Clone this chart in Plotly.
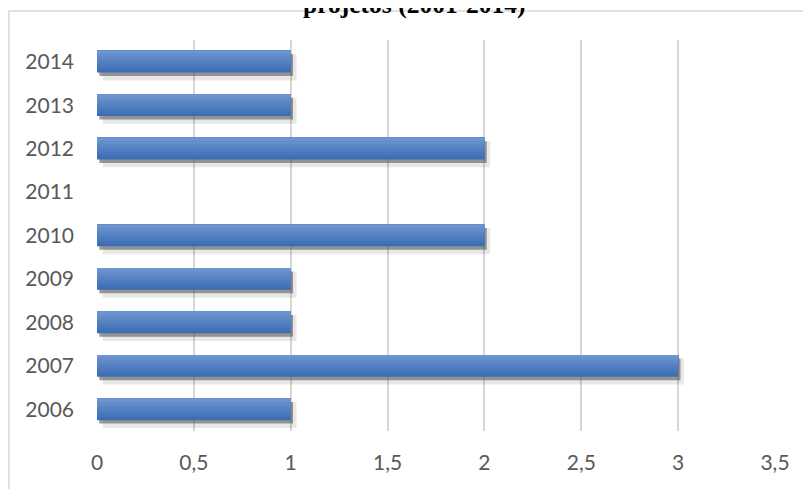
import plotly.graph_objects as go

years = ["2006", "2007", "2008", "2009", "2010", "2011", "2012", "2013", "2014"]
counts = [1, 3, 1, 1, 2, 0, 2, 1, 1]
x_ticks = [0, 0.5, 1, 1.5, 2, 2.5, 3, 3.5]
title_text = "projetos (2001-2014)"

fig = go.Figure()

# soft shadow
fig.add_trace(go.Bar(y=years, x=counts, orientation="h", base=0.03,
                     offset=-0.43, width=0.6, marker_color="rgba(0,0,0,0.09)",
                     marker_line_width=0, hoverinfo="skip"))
# darker shadow
fig.add_trace(go.Bar(y=years, x=counts, orientation="h", base=0.012,
                     offset=-0.33, width=0.5, marker_color="rgba(90,90,90,0.6)",
                     marker_line_width=0, hoverinfo="skip"))

# gradient bar made of overlapping layers (bottom dark -> top light)
n = 12
c_bot = (0x3b, 0x6d, 0xb4)
c_top = (0x6e, 0x95, 0xcf)
w = 0.5 / n
for k in range(n):
    t = k / (n - 1)
    col = tuple(round(c_bot[i] + (c_top[i] - c_bot[i]) * t) for i in range(3))
    fig.add_trace(go.Bar(y=years, x=counts, orientation="h",
                         offset=-0.25 + k * w, width=0.5 - k * w,
                         marker_color="rgb(%d,%d,%d)" % col,
                         marker_line_width=0, hoverinfo="skip"))

fig.update_layout(
    width=811, height=489,
    margin=dict(l=89, r=44, t=32, b=66),
    barmode="overlay",
    showlegend=False,
    plot_bgcolor="white", paper_bgcolor="white",
    separators=",.",
    hovermode=False,
    font=dict(family="Lato", size=21, color="#595959"),
    xaxis=dict(range=[0, 3.5], tickvals=x_ticks, showgrid=True,
               gridcolor="#d6d6d6", gridwidth=1.5, zeroline=False,
               showline=False, ticks="", ticklabelstandoff=17,
               tickfont=dict(family="Lato", size=21, color="#595959")),
    yaxis=dict(type="category", showgrid=False, zeroline=False,
               showline=False, ticks="", ticklabelstandoff=22,
               tickfont=dict(family="Lato", size=21, color="#595959")),
    shapes=[dict(type="rect", xref="paper", yref="paper",
                 x0=-0.13, x1=1.3, y0=-0.4, y1=1.074,
                 line=dict(color="#d9d9d9", width=1.5),
                 fillcolor="rgba(0,0,0,0)", layer="below")],
    annotations=[dict(text="<b>" + title_text + "</b>", xref="paper", yref="paper",
                      x=0.468, y=1.092, xanchor="center", yanchor="middle",
                      showarrow=False,
                      font=dict(family="Liberation Serif", size=25.5, color="black"))],
)

fig.write_html("out.html")
